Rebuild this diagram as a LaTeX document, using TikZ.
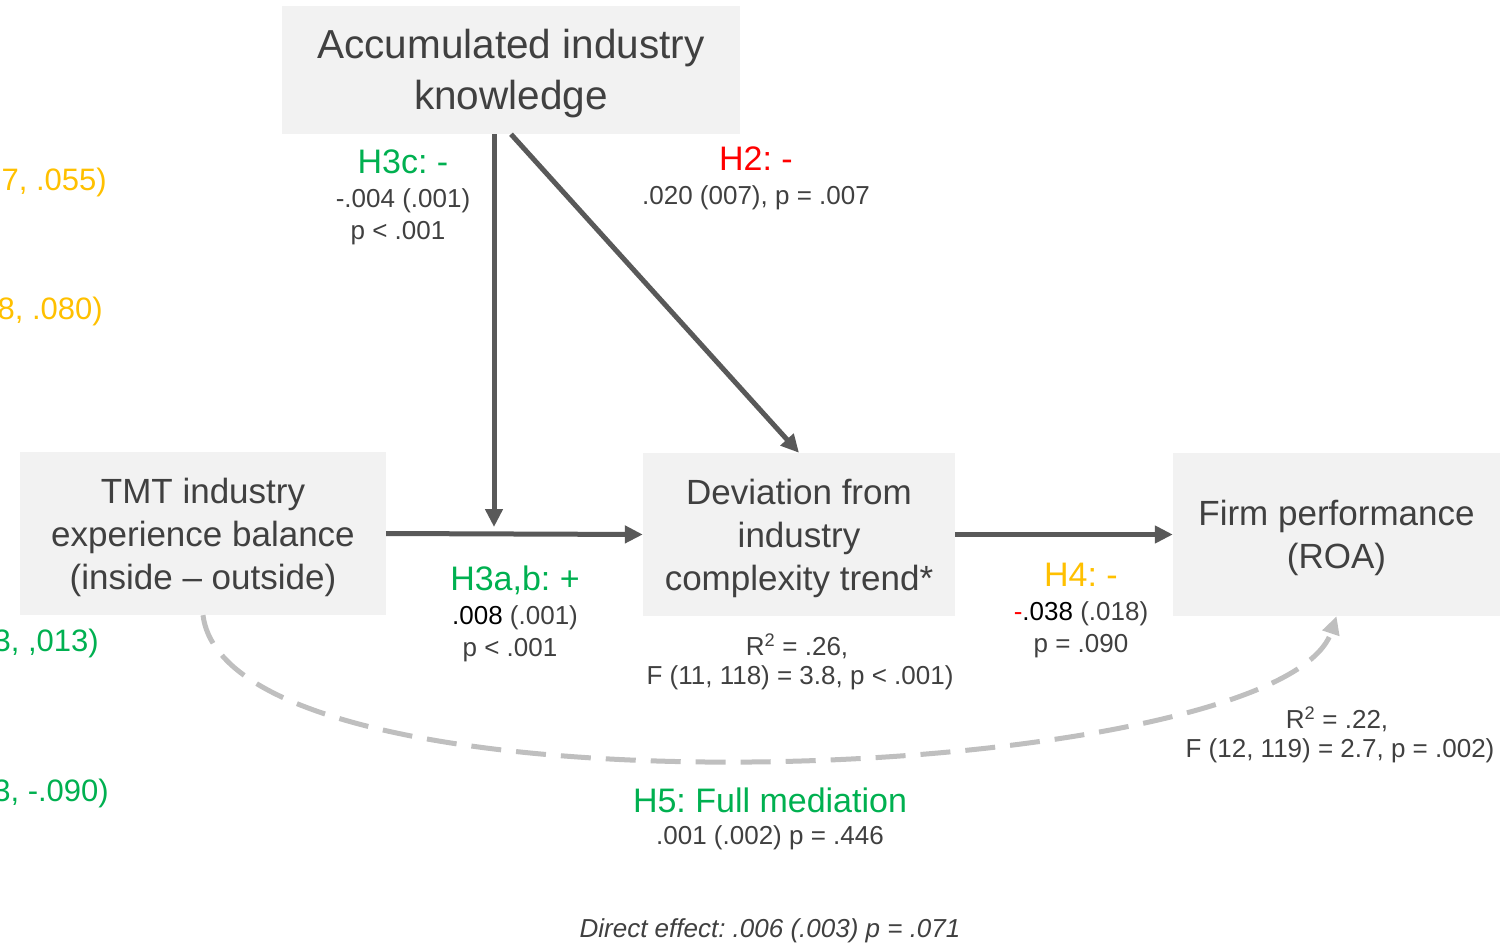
\documentclass[tikz,border=0pt]{standalone}
\usepackage{fontspec}
\setmainfont{Liberation Sans}
\usetikzlibrary{arrows.meta}
\definecolor{boxfill}{HTML}{F2F2F2}
\definecolor{txt}{HTML}{404040}
\definecolor{arr}{HTML}{595959}
\definecolor{dash}{HTML}{BFBFBF}
\definecolor{hgreen}{HTML}{00B050}
\definecolor{hred}{HTML}{FF0000}
\definecolor{hyellow}{HTML}{FFC000}
\frenchspacing
\begin{document}
\begin{tikzpicture}[x=1pt,y=-1pt,
  box/.style={fill=boxfill,draw=none,inner sep=0pt},
  boxtext/.style={inner sep=0pt,align=center,text=txt,
    font=\frenchspacing\fontsize{35}{43}\selectfont},
  hlab/.style={inner sep=0pt,font=\frenchspacing\fontsize{34}{40}\selectfont},
  small/.style={inner sep=0pt,text=txt,font=\frenchspacing\fontsize{26}{32}\selectfont},
  edge/.style={inner sep=0pt,anchor=east,font=\frenchspacing\fontsize{31}{36}\selectfont},
  arrowline/.style={draw=arr,line width=5pt,-{Triangle[length=18pt,width=17pt]}},
  dashline/.style={draw=dash,line width=5pt,dash pattern=on 30pt off 15pt,-{Triangle[length=18pt,width=17pt]}}
]
\useasboundingbox (0,0) rectangle (1510,944);

% boxes
\node[box,minimum width=458pt,minimum height=128pt] (acc) at (511,70) {};
\node[box,minimum width=366pt,minimum height=163pt] (tmt) at (203,533.5) {};
\node[box,minimum width=312pt,minimum height=163pt] (dev) at (799,534.5) {};
\node[box,minimum width=327pt,minimum height=163pt] (firm) at (1336.5,534.5) {};

\node[boxtext,font=\frenchspacing\fontsize{40.5}{51}\selectfont] (acct) at (511,74) {Accumulated industry\\knowledge};
\node[boxtext] (tmtt) at (203,537) {TMT industry\\experience balance\\(inside -- outside)};
\node[boxtext] (devt) at (799,538) {Deviation from\\industry\\complexity trend*};
\node[boxtext] (firmt) at (1336.5,538) {Firm performance\\(ROA)};

% connectors
\coordinate (mtip) at (494,527);
\draw[arrowline] (acc.south -| mtip) -- (mtip);
\draw[arrowline] (acc.south) -- (dev.north);
\draw[arrowline] (tmt.east) -- (dev.west);
\draw[arrowline] (dev.east) -- (firm.west);
\draw[dashline] (tmt.south) .. controls (230,830) and (1280,786) .. (firm.south);

% left-edge cut texts
\node[edge,text=hyellow] (e1) at (107,182) {7, .055)};
\node[edge,text=hyellow] (e2) at (103,311) {8, .080)};
\node[edge,text=hgreen] (e3) at (99,643) {3, ,013)};
\node[edge,text=hgreen] (e4) at (109,793) {3, -.090)};

% H3c
\node[hlab,text=hgreen] (h3c) at (403,162) {H3c: -};
\node[small] (h3c1) at (403,201) {-.004 (.001)};
\node[small] (h3c2) at (398,233) {p < .001};

% H2
\node[hlab,text=hred] (h2) at (756,159) {H2: -};
\node[small] (h21) at (756,198) {.020 (007), p = .007};

% H3a,b
\node[hlab,text=hgreen] (h3ab) at (515,580) {H3a,b: +};
\node[small] (h3ab1) at (515,618) {\textcolor{black}{.008} (.001)};
\node[small] (h3ab2) at (510,650) {p < .001};

% H4
\node[hlab,text=hyellow] (h4) at (1081,575) {H4: -};
\node[small] (h41) at (1081,614) {\textcolor{hred}{-}\textcolor{black}{.038} (.018)};
\node[small] (h42) at (1081,646) {p = .090};

% R2 deviation
\node[small] (r1a) at (797,646) {R\textsuperscript{2} = .26,};
\node[small] (r1b) at (800,678) {F (11, 118) = 3.8, p < .001)};

% R2 firm
\node[small] (r2a) at (1337,719) {R\textsuperscript{2} = .22,};
\node[small] (r2b) at (1340,751) {F (12, 119) = 2.7, p = .002)};

% H5
\node[hlab,text=hgreen] (h5) at (770,800) {H5: Full mediation};
\node[small] (h51) at (770,838) {.001 (.002) p = .446};

\node[small,font=\frenchspacing\fontsize{26}{32}\selectfont\itshape] (direct) at (770,931) {Direct effect: .006 (.003) p = .071};
\end{tikzpicture}
\end{document}
